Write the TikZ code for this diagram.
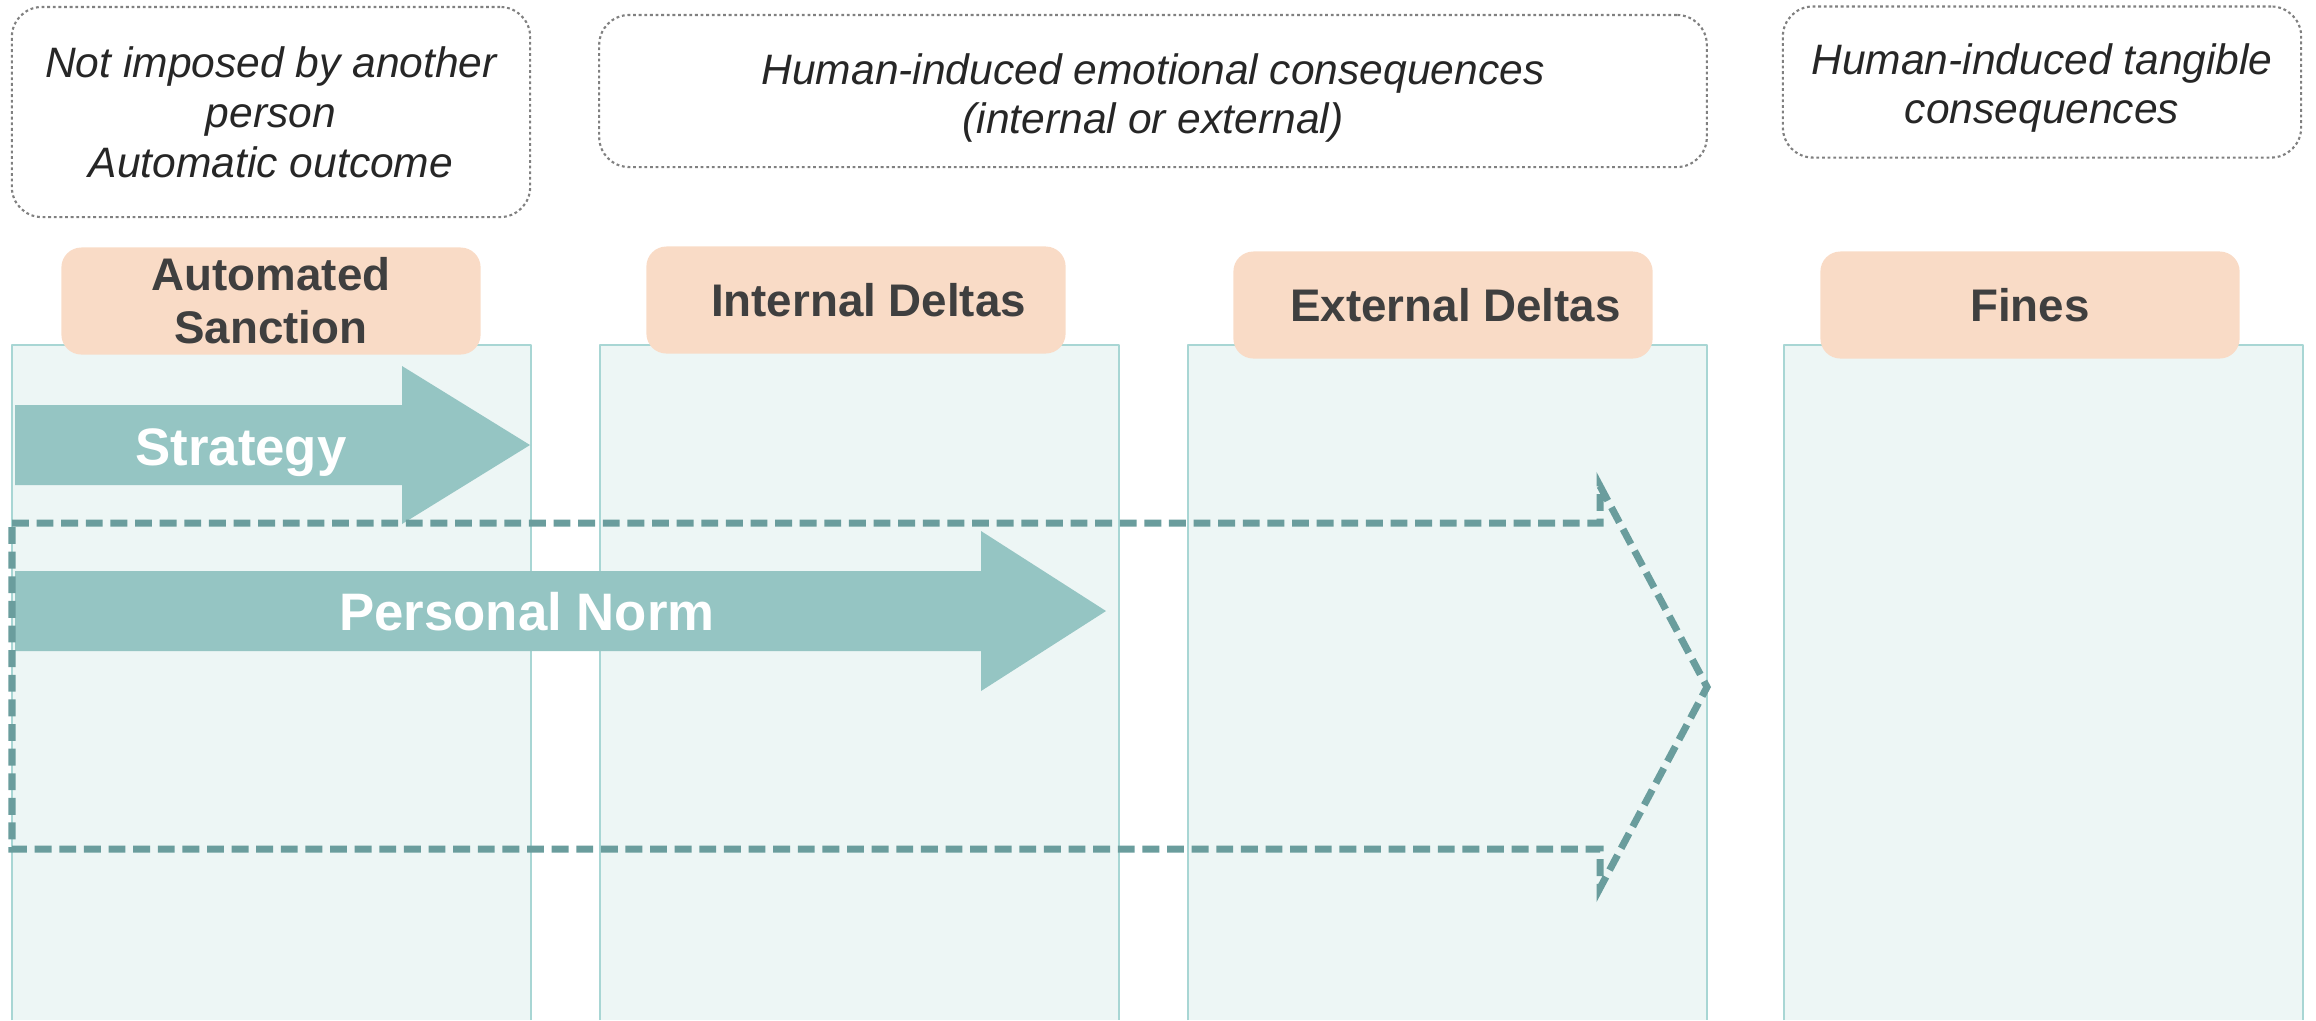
\documentclass[tikz,border=0pt]{standalone}
\usepackage{fontspec}
\setmainfont{Liberation Sans}
\usetikzlibrary{positioning,calc}
\definecolor{colfill}{HTML}{EDF6F5}
\definecolor{colline}{HTML}{A8D6D4}
\definecolor{tagfill}{HTML}{F9DBC6}
\definecolor{tagtext}{HTML}{3F3F3F}
\definecolor{arrowfill}{HTML}{95C5C3}
\definecolor{dashline}{HTML}{6A9D9D}
\definecolor{notetext}{HTML}{262626}
\tikzset{
    notebox/.style={draw=gray,line width=0.6pt,dash pattern=on 0.8pt off 0.8pt,rounded corners=0.3cm,inner sep=0pt},
    notelabel/.style={align=center,text=notetext,font=\fontsize{12.1}{14.2}\selectfont\itshape,inner sep=0pt},
    tagbox/.style={fill=tagfill,rounded corners=0.2cm,minimum width=4.19cm,minimum height=1.07cm,
        align=center,text=tagtext,font=\fontsize{13}{15.1}\selectfont\bfseries,inner sep=0pt},
    arrowtext/.style={text=white,font=\fontsize{15}{18}\selectfont\bfseries,inner sep=0pt}
}
% tail x, head base x, tip x, middle y, shaft half height, head half height
\newcommand{\drawBlockArrow}[6]{
    \fill[arrowfill] (#1,#4-#5) -- (#2,#4-#5) -- (#2,#4-#6) -- (#3,#4)
        -- (#2,#4+#6) -- (#2,#4+#5) -- (#1,#4+#5) -- cycle;
}

\begin{document}
\begin{tikzpicture}[x=0.01cm,y=-0.01cm,line join=round]
    \useasboundingbox (0,0) rectangle (2316,1020);

    % columns
    \foreach \cx in {12,600,1188,1784}{
        \fill[colfill] (\cx,345) rectangle ++(519,675);
        \draw[colline,line width=0.4pt] (\cx,1020) -- (\cx,345) -- ++(519,0) -- ++(0,675);
    }

    % notes on top
    \node[notebox,minimum width=5.18cm,minimum height=2.10cm] (noteAuto) at (271,112) {};
    \node[notelabel] (textAuto) at (noteAuto.center) {Not imposed by another\\person\\Automatic outcome};
    \node[notebox,minimum width=11.07cm,minimum height=1.52cm] (noteEmo) at (1153,91) {};
    \node[notelabel] (textEmo) at (1153,98) {Human-induced emotional consequences\\(internal or external)};
    \node[notebox,minimum width=5.18cm,minimum height=1.51cm] (noteTang) at (2042,82) {};
    \node[notelabel] (textTang) at (2042,88) {Human-induced tangible\\consequences};

    % headers
    \node[tagbox] (tagAuto) at (271,301) {Automated\\Sanction};
    \node[tagbox] (tagInt) at (856,300) {\hspace*{0.25cm}Internal Deltas};
    \node[tagbox] (tagExt) at (1443,305) {\hspace*{0.25cm}External Deltas};
    \node[tagbox] (tagFines) at (2030,305) {Fines};

    % arrows
    \drawBlockArrow{15}{402}{530}{445}{40}{79}
    \drawBlockArrow{15}{981}{1106}{611}{40}{80}
    \node[arrowtext] (strat) at (241,453) {Strategy};
    \node[arrowtext] (norm) at (527,612) {Personal Norm};

    \draw[dashline,line width=2pt,dash pattern=on 4.8pt off 2.2pt,line cap=butt,line join=miter]
        (12,523) -- (1600,523) -- (1600,486) -- (1707,687) -- (1600,888) -- (1600,849) -- (12,849) -- cycle;
\end{tikzpicture}
\end{document}
